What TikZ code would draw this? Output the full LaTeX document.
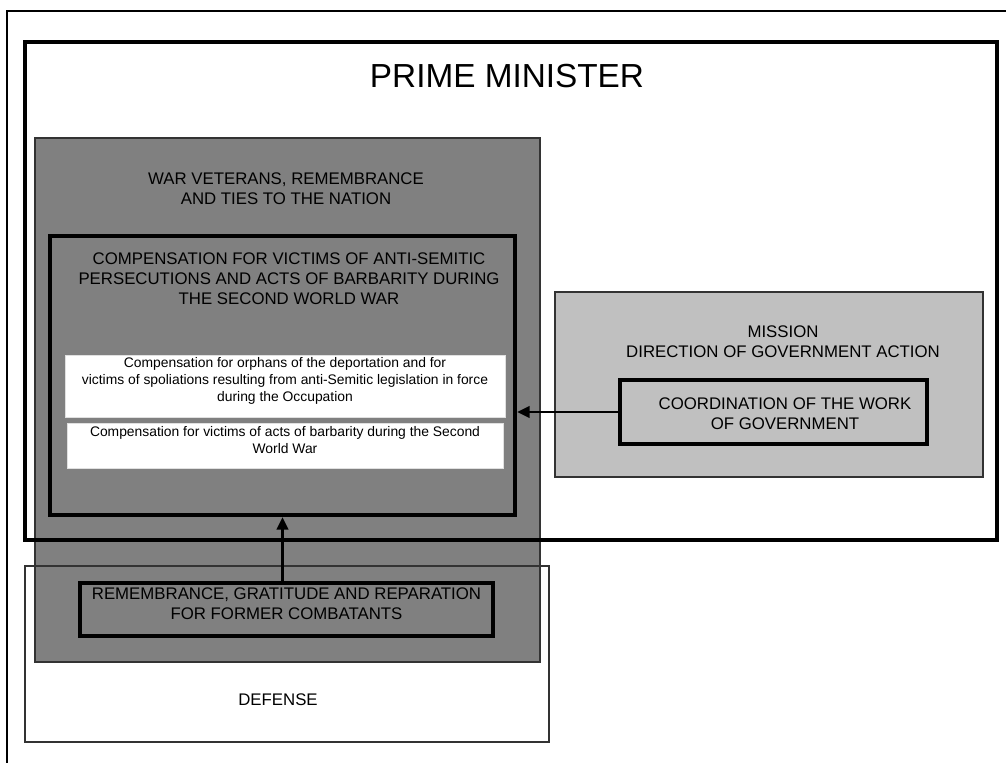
\documentclass[tikz,border=0pt]{standalone}
\usepackage{fontspec}
\setmainfont{Liberation Sans}
\usetikzlibrary{arrows.meta,fit}
\definecolor{darkbox}{RGB}{128,128,128}
\definecolor{lightbox}{RGB}{192,192,192}
\newcommand{\titlefont}{\fontsize{12.6}{15}\selectfont}
\newcommand{\smallfont}{\fontsize{10.4}{12.75}\selectfont}

\begin{document}
\begin{tikzpicture}[x=0.75pt, y=-0.75pt,
  thinbox/.style={draw=black!80, line width=0.8pt, inner sep=0pt},
  thickbox/.style={draw=black, line width=3pt, inner sep=0pt, align=center, font=\titlefont},
  whitebox/.style={fill=white, draw=black!12, line width=0.6pt, inner sep=0pt, align=center, font=\smallfont},
  title/.style={align=center, font=\titlefont},
  arr/.style={line width=2.2pt, -{Triangle[length=9.5pt,width=8.5pt]}}]
  \clip (0,0) rectangle (1006,763);

  % ---------- outer frame ----------
  \draw[line width=0.9pt] (7,790) -- (7,11) -- (1030,11);

  % ---------- containers ----------
  \node[thinbox, fill=darkbox, fit={(35,138) (540,662)}] (veterans) {};
  \node[draw=black, line width=2.6pt, inner sep=0pt, fit={(25,42) (997,540)}] (pm) {};
  \node[thinbox, fit={(25,566) (549,742)}] (defense) {};
  \node[thinbox, fill=lightbox, fit={(555,292) (983,477)}] (mission) {};

  % ---------- titles ----------
  \node[font=\fontsize{25}{30}\selectfont] (pmtitle) at (507,76) {PRIME MINISTER};
  \node[title] (vettitle) at (286,189) {WAR VETERANS, REMEMBRANCE\\AND TIES TO THE NATION};
  \node[title] (mistitle) at (783,342) {MISSION\\DIRECTION OF GOVERNMENT ACTION};
  \node[title] (deftitle) at (278,700) {DEFENSE};

  % ===== programme 158 =====
  \node[thickbox, fit={(50,236) (515,515)}] (comp) {};
  \node[title] (comptitle) at (289,279)
    {COMPENSATION FOR VICTIMS OF ANTI-SEMITIC\\PERSECUTIONS AND ACTS OF BARBARITY DURING\\THE SECOND WORLD WAR};
  \node[whitebox, fit={(65,355) (505,417)}] (orphans)
    {Compensation for orphans of the deportation and for\\victims of spoliations resulting from anti-Semitic legislation in force\\during the Occupation};
  \node[whitebox, fit={(67,423) (503,468)}] (barbarity)
    {Compensation for victims of acts of barbarity during the Second\\World War};

  % ===== programmes 129 and 169 =====
  \node[thickbox, fit={(620,380) (927,444)}] (coord) {};
  \node[title] (coordtext) at (785,414) {COORDINATION OF THE WORK\\OF GOVERNMENT};
  \node[thickbox, fit={(80,583) (493,636)}] (remem) {REMEMBRANCE, GRATITUDE AND REPARATION\\FOR FORMER COMBATANTS};

  % ---------- links ----------
  \draw[arr] (coord.west) -- (comp.east |- coord.west);
  \draw[arr] (comp.south |- remem.north) -- (comp.south);

\end{tikzpicture}
\end{document}
